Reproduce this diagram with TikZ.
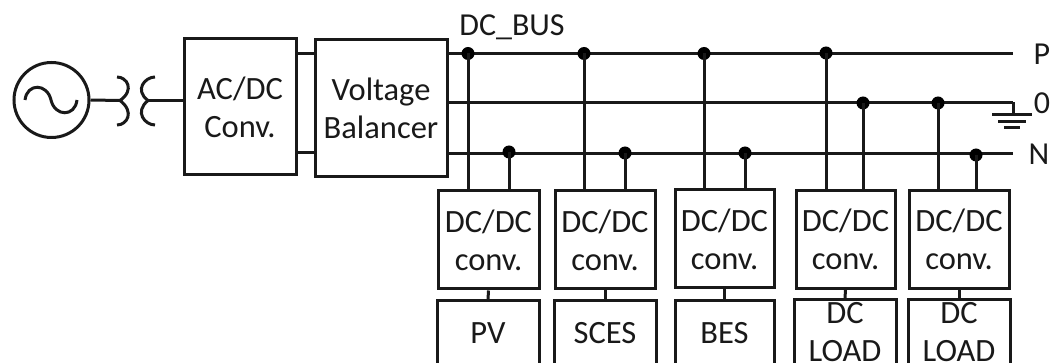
\documentclass[tikz,border=0pt]{standalone}
\usepackage{fontspec}
\setmainfont{Carlito}
\begin{document}
\begin{tikzpicture}[x=1pt,y=-1pt,
  wire/.style={line width=3pt,draw=black!90},
  blk/.style={draw=black!90,line width=3pt,rectangle,inner sep=0pt,align=center,font=\fontsize{32.5}{38}\selectfont,text=black!90},
  dot/.style={circle,fill=black,inner sep=0pt,minimum size=13pt},
  lbl/.style={font=\fontsize{32}{38}\selectfont,inner sep=0pt,text=black!90}]
\useasboundingbox (0,0) rectangle (1050,363);
\clip (0,0) rectangle (1050,363);
% source
\node[draw=black!90,line width=3pt,circle,minimum size=75pt,inner sep=0pt] (src) at (51.5,100) {};
\draw[wire] (25,100) .. controls (27,83) and (47,83) .. (51,100) .. controls (55,117) and (75,117) .. (77,100);
% transformer
\coordinate (tl) at (120,100.5);
\coordinate (tr) at (148,100.5);
\draw[wire] (117,77) .. controls (127,77) and (135,90) .. (tl) .. controls (135,112) and (127,125) .. (117,125);
\draw[wire] (155,77) .. controls (145,77) and (134,90) .. (tr) .. controls (134,112) and (145,125) .. (155,125);
% main boxes
\node[blk,minimum width=112pt,minimum height=136pt] (ac) at (240,107) {AC/DC\\Conv.};
\node[blk,minimum width=132pt,minimum height=137pt] (vb) at (381,108.5) {Voltage\\Balancer};
\draw[wire] (src.east) -- (tl);
\draw[wire] (tr) -- (ac.west |- tr);
\coordinate (a1) at (300,53.5);
\coordinate (a2) at (300,152.5);
\draw[wire] (ac.east |- a1) -- (vb.west |- a1);
\draw[wire] (ac.east |- a2) -- (vb.west |- a2);
% bus ends
\coordinate (pP) at (1013,53.5);
\coordinate (p0) at (1013,102.5);
\coordinate (pN) at (1013,153.5);
\draw[wire] (vb.east |- pP) -- (pP);
\draw[wire] (vb.east |- p0) -- (p0);
\draw[wire] (vb.east |- pN) -- (pN);
% converters
\node[blk,minimum width=101pt,minimum height=98pt] (c1) at (488.5,240) {DC/DC\\conv.};
\node[blk,minimum width=100pt,minimum height=98pt] (c2) at (605,240) {DC/DC\\conv.};
\node[blk,minimum width=99pt,minimum height=98pt] (c3) at (724.5,239) {DC/DC\\conv.};
\node[blk,minimum width=99pt,minimum height=98pt] (c4) at (845.5,239.5) {DC/DC\\conv.};
\node[blk,minimum width=100pt,minimum height=98pt] (c5) at (959,239.5) {DC/DC\\conv.};
% lower boxes
\node[blk,minimum width=102pt,minimum height=65pt] (s1) at (488,333.5) {PV};
\node[blk,minimum width=102pt,minimum height=65pt] (s2) at (605,333.5) {SCES};
\node[blk,minimum width=99pt,minimum height=65pt] (s3) at (724.5,333.5) {BES};
\node[blk,minimum width=102pt,minimum height=65pt] (s4) at (845,332) {DC\\LOAD};
\node[blk,minimum width=102pt,minimum height=65pt] (s5) at (959,332) {DC\\LOAD};
\foreach \i in {1,...,5} \draw[wire] (c\i.south) -- (s\i.north);
% junctions
\node[dot] (j1) at (468,53.5) {};
\node[dot] (j2) at (584,53.5) {};
\node[dot] (j3) at (704,53.5) {};
\node[dot] (j4) at (826,53) {};
\node[dot] (k1) at (509,152) {};
\node[dot] (k2) at (625,153) {};
\node[dot] (k3) at (745,153) {};
\node[dot] (k5) at (976,155) {};
\node[dot] (z4) at (863,103) {};
\node[dot] (z5) at (938,103) {};
\draw[wire] (j1.center) -- (j1.center |- c1.north);
\draw[wire] (k1.center) -- (k1.center |- c1.north);
\draw[wire] (j2.center) -- (j2.center |- c2.north);
\draw[wire] (k2.center) -- (k2.center |- c2.north);
\draw[wire] (j3.center) -- (j3.center |- c3.north);
\draw[wire] (k3.center) -- (k3.center |- c3.north);
\draw[wire] (j4.center) -- (j4.center |- c4.north);
\draw[wire] (z4.center) -- (z4.center |- c4.north);
\draw[wire] (z5.center) -- (z5.center |- c5.north);
\draw[wire] (k5.center) -- (k5.center |- c5.north);
% ground
\coordinate (g) at (1013,115);
\draw[wire] (p0) -- (g);
\draw[wire] (992,115) -- (1032,115);
\draw[wire] (998,122) -- (1026,122);
\draw[wire] (1004,128) -- (1020,128);
% labels
\node[lbl,anchor=base] (lP) at (1042,65) {P};
\node[lbl,anchor=base] (l0) at (1042,114) {0};
\node[lbl,anchor=base] (lN) at (1039,165) {N};
\node[lbl,anchor=base] (lB) at (512,36) {DC\_BUS};
\end{tikzpicture}
\end{document}
